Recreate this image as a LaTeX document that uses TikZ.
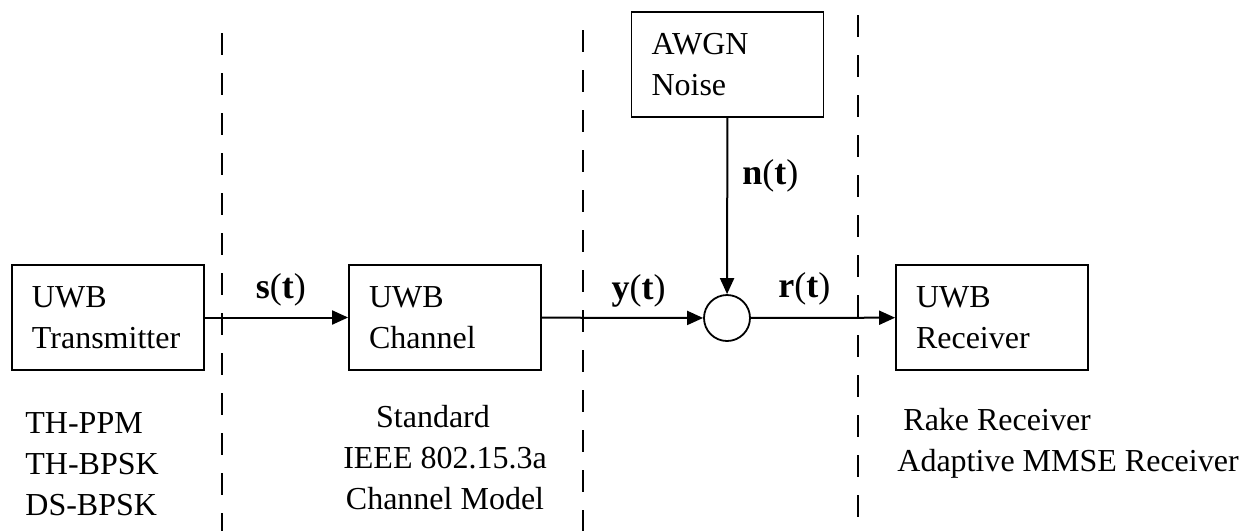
\documentclass[tikz,border=0pt]{standalone}
\usepackage{fontspec}
\setmainfont{Liberation Serif}
\usetikzlibrary{positioning,arrows.meta}
\tikzset{block/.style={draw,line width=0.9pt,minimum width=96pt,minimum height=52.5pt,text width=76pt,inner xsep=10pt,align=left,font=\fontsize{16}{20.5}\selectfont},sum/.style={draw,circle,line width=0.9pt,minimum size=23pt,inner sep=0pt},link/.style={draw,line width=1pt,-{Triangle[length=8pt,width=7pt]}},sig/.style={inner sep=0pt,font=\fontsize{18}{20}\selectfont},note/.style={inner sep=0pt,font=\fontsize{16}{20.5}\selectfont},divider/.style={line width=1pt,dash pattern=on 11pt off 9pt}}

\begin{document}
\begin{tikzpicture}[x=0.5pt,y=-0.5pt]
\useasboundingbox (0,0) rectangle (1251,531);
\node[block] (tx) at (108,317.5) {UWB\\Transmitter};
\node[block] (ch) at (445,317.5) {UWB\\Channel};
\node[block] (awgn) at (727.5,64.5) {AWGN\\Noise};
\node[block] (rx) at (992,317.5) {UWB\\Receiver};
\node[sum] (add) at (727,318) {};
\node[note,anchor=north west,align=left] (txnote) at (25,412) {TH-PPM\\TH-BPSK\\DS-BPSK};
\node[note,anchor=north,align=center] (chnote) at (445,405) {Standard\hspace*{12pt}\\IEEE 802.15.3a\\Channel Model};
\node[note,anchor=north west,align=left] (rxnote) at (897,408) {\hspace{3pt}Rake Receiver\\Adaptive MMSE Receiver};
\coordinate (d1t) at (222,33); \coordinate (d1b) at (222,531);
\coordinate (d2t) at (583,30); \coordinate (d2b) at (583,531);
\coordinate (d3t) at (858,15); \coordinate (d3b) at (858,531);
\foreach \d in {d1,d2,d3}\draw[divider] (\d t) -- (\d b);
\draw[link] (tx) -- node[sig,above=5pt,pos=0.53] {\textbf{s}(\textbf{t})} (ch);
\draw[link] (ch) -- node[sig,above=5pt,pos=0.6] {\textbf{y}(\textbf{t})} (add);
\draw[link] (awgn) -- node[sig,right=7pt,pos=0.33] {\textbf{n}(\textbf{t})} (add);
\draw[link] (add) -- node[sig,above=6pt,pos=0.37] {\textbf{r}(\textbf{t})} (rx);
\end{tikzpicture}
\end{document}
